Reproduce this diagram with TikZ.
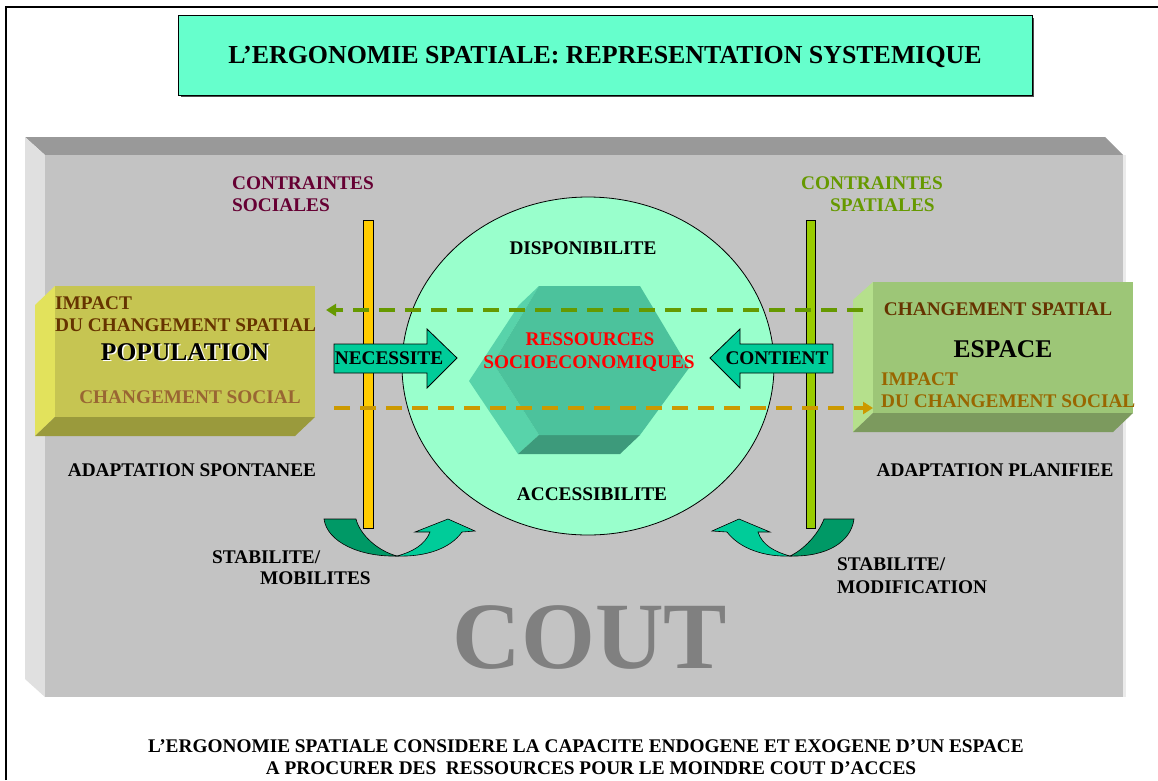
\documentclass[tikz,border=0pt]{standalone}
\usepackage{fontspec}
\setmainfont{Liberation Serif}
\usetikzlibrary{arrows.meta}
\definecolor{slabFront}{HTML}{C3C3C3}
\definecolor{slabTop}{HTML}{999999}
\definecolor{slabLeft}{HTML}{E0E0E0}
\definecolor{titleFill}{HTML}{66FFCC}
\definecolor{circFill}{HTML}{99FFCC}
\definecolor{hexFront}{HTML}{4CC29C}
\definecolor{hexLeft}{HTML}{58D3AA}
\definecolor{hexBottom}{HTML}{3D9A7B}
\definecolor{popFront}{HTML}{C6C552}
\definecolor{popLeft}{HTML}{E2E25C}
\definecolor{popBottom}{HTML}{9A9A3C}
\definecolor{espFront}{HTML}{9DC677}
\definecolor{espLeft}{HTML}{B5E08C}
\definecolor{espBottom}{HTML}{7C9A5E}
\definecolor{barYellow}{HTML}{FFCC00}
\definecolor{barGreen}{HTML}{99CC00}
\definecolor{arrTeal}{HTML}{00CC99}
\definecolor{arrDark}{HTML}{009966}
\definecolor{maroon}{HTML}{660033}
\definecolor{olive}{HTML}{669900}
\definecolor{brownD}{HTML}{663300}
\definecolor{brownL}{HTML}{996633}
\definecolor{ochre}{HTML}{996600}
\definecolor{dashOr}{HTML}{CC9900}
\definecolor{coutGrey}{HTML}{808080}
\begin{document}
\begin{tikzpicture}[x=1pt,y=-1pt,
  txt/.style={inner sep=0pt, font=\fontsize{19.3}{23}\selectfont\bfseries},
  bigtxt/.style={inner sep=0pt, font=\fontsize{25.5}{30}\selectfont\bfseries},
  edge/.style={draw=black, line width=0.8pt},
  dashgreen/.style={draw=olive, line width=4pt, dash pattern=on 16pt off 10pt, -{Triangle[length=10pt,width=12pt]}},
  dashorange/.style={draw=dashOr, line width=4pt, dash pattern=on 16pt off 10pt, -{Triangle[length=10pt,width=12pt]}}
]
\useasboundingbox (0,0) rectangle (1158,780);
\fill[white] (0,0) rectangle (1158,780);
% outer frame
\draw[line width=2pt] (6,780) -- (6,7) -- (1158,7);
% title
\fill[black!70] (181,18) rectangle (1034,97);
\filldraw[fill=titleFill, draw=black, line width=0.8pt] (178,15) rectangle (1032,95);
\node[inner sep=0pt, font=\fontsize{25.9}{30}\selectfont\bfseries, anchor=base] (title) at (605,63) {L’ERGONOMIE SPATIALE: REPRESENTATION SYSTEMIQUE};
% slab
\fill[slabTop] (25,137) -- (1105,137) -- (1123,155) -- (45,155) -- cycle;
\fill[slabLeft] (25,137) -- (45,155) -- (45,697) -- (25,679) -- cycle;
\fill[slabFront] (45,155) rectangle (1123,697);
\fill[black!8] (1123,155) rectangle (1126,697);
% circle
\filldraw[fill=circFill, draw=black, line width=0.8pt] (588,366) ellipse [x radius=186, y radius=169];
% hexagon prism
\fill[hexLeft] (539,286) -- (493,363) -- (539,435) -- (518,454) -- (469,381) -- (519,305) -- cycle;
\fill[hexBottom] (539,435) -- (640,435) -- (620,454) -- (518,454) -- cycle;
\fill[hexFront] (539,286) -- (640,286) -- (689,368) -- (640,435) -- (539,435) -- (493,363) -- cycle;
% bars
\filldraw[fill=barYellow, edge] (363,220) rectangle (373,528);
\filldraw[fill=barGreen, edge] (806,220) rectangle (815,528);
% population box
\fill[popLeft] (35,305) -- (55,286) -- (55,417) -- (35,436) -- cycle;
\fill[popBottom] (55,417) -- (315,417) -- (295,436) -- (35,436) -- cycle;
\fill[popFront] (55,286) rectangle (315,417);
% espace box
\fill[espLeft] (853,300) -- (873,282) -- (873,413) -- (853,432) -- cycle;
\fill[espBottom] (873,413) -- (1133,413) -- (1113,432) -- (853,432) -- cycle;
\fill[espFront] (873,282) rectangle (1133,413);
% block arrows
\filldraw[fill=arrTeal, edge] (334,344) -- (427,344) -- (427,329) -- (457,358) -- (427,388) -- (427,373) -- (334,373) -- cycle;
\filldraw[fill=arrTeal, edge] (833,344) -- (740,344) -- (740,329) -- (710,358) -- (740,388) -- (740,373) -- (833,373) -- cycle;
% curved arrows left
\filldraw[fill=arrDark, draw=black, line width=0.6pt] (324,519) -- (356,519) .. controls (360,535) and (378,551) .. (397,556) .. controls (360,557) and (327,542) .. (324,519) -- cycle;
\filldraw[fill=arrTeal, draw=black, line width=0.6pt] (397,556) .. controls (412,552) and (425,545) .. (430,532) -- (415,532) -- (448,519) -- (475,531) -- (462,532) .. controls (450,549) and (425,557) .. (397,556) -- cycle;
% curved arrows right
\filldraw[fill=arrDark, draw=black, line width=0.6pt] (854,519) -- (824,519) .. controls (818,535) and (803,550) .. (790,556) .. controls (827,557) and (851,542) .. (854,519) -- cycle;
\filldraw[fill=arrTeal, draw=black, line width=0.6pt] (790,556) .. controls (775,552) and (762,545) .. (758,532) -- (770,532) -- (739,519) -- (712,531) -- (727,532) .. controls (740,549) and (765,557) .. (790,556) -- cycle;
% dashed connectors
\coordinate (gStart) at (863,310);
\coordinate (gEnd) at (326,310);
\coordinate (oStart) at (334,408);
\coordinate (oEnd) at (873,408);
\draw[dashgreen] (gStart) -- (gEnd);
\draw[dashorange] (oStart) -- (oEnd);
% texts
\node[txt, text=maroon, anchor=base west] (cs1) at (232,189) {CONTRAINTES};
\node[txt, text=maroon, anchor=base west] (cs2) at (232,211) {SOCIALES};
\node[txt, text=olive, anchor=base west] (cp1) at (801,189) {CONTRAINTES};
\node[txt, text=olive, anchor=base west] (cp2) at (830,211) {SPATIALES};
\node[txt, anchor=base] (dispo) at (583,254) {DISPONIBILITE};
\node[txt, text=red, anchor=base] (res1) at (590,345) {RESSOURCES};
\node[txt, text=red, anchor=base] (res2) at (589,368) {SOCIOECONOMIQUES};
\node[txt, anchor=base] (acces) at (592,500) {ACCESSIBILITE};
\node[txt, anchor=base] (neces) at (389,364) {NECESSITE};
\node[txt, anchor=base] (cont) at (777,364) {CONTIENT};
\node[txt, text=brownD, anchor=base west] (imp1) at (55,309) {IMPACT};
\node[txt, text=brownD, anchor=base west] (imp2) at (55,331) {DU CHANGEMENT SPATIAL};
\node[bigtxt, text=white, anchor=base] at (186.5,361.5) {POPULATION};
\node[bigtxt, anchor=base] (pop) at (185,360) {POPULATION};
\node[txt, text=brownL, anchor=base] (chs) at (190,403) {CHANGEMENT SOCIAL};
\node[txt, text=brownD, anchor=base] (chsp) at (998,315) {CHANGEMENT SPATIAL};
\node[bigtxt, anchor=base] (esp) at (1003,357) {ESPACE};
\node[txt, text=ochre, anchor=base west] (imp3) at (881,385) {IMPACT};
\node[txt, text=ochre, anchor=base west] (imp4) at (881,407) {DU CHANGEMENT SOCIAL};
\node[txt, anchor=base] (adsp) at (192,476) {ADAPTATION SPONTANEE};
\node[txt, anchor=base] (adpl) at (995,476) {ADAPTATION PLANIFIEE};
\node[txt, anchor=base west] (st1) at (212,563) {STABILITE/};
\node[txt, anchor=base west] (st2) at (260,584) {MOBILITES};
\node[txt, anchor=base west] (st3) at (837,570) {STABILITE/};
\node[txt, anchor=base west] (st4) at (837,593) {MODIFICATION};
\node[inner sep=0pt, font=\fontsize{95}{100}\selectfont\bfseries, text=coutGrey, anchor=base] (cout) at (590,668) {COUT};
\node[txt, anchor=base] (bot1) at (586,752) {L’ERGONOMIE SPATIALE CONSIDERE LA CAPACITE ENDOGENE ET EXOGENE D’UN ESPACE};
\node[txt, anchor=base] (bot2) at (591,774) {A PROCURER DES\ \ RESSOURCES POUR LE MOINDRE COUT D’ACCES};
\end{tikzpicture}
\end{document}
